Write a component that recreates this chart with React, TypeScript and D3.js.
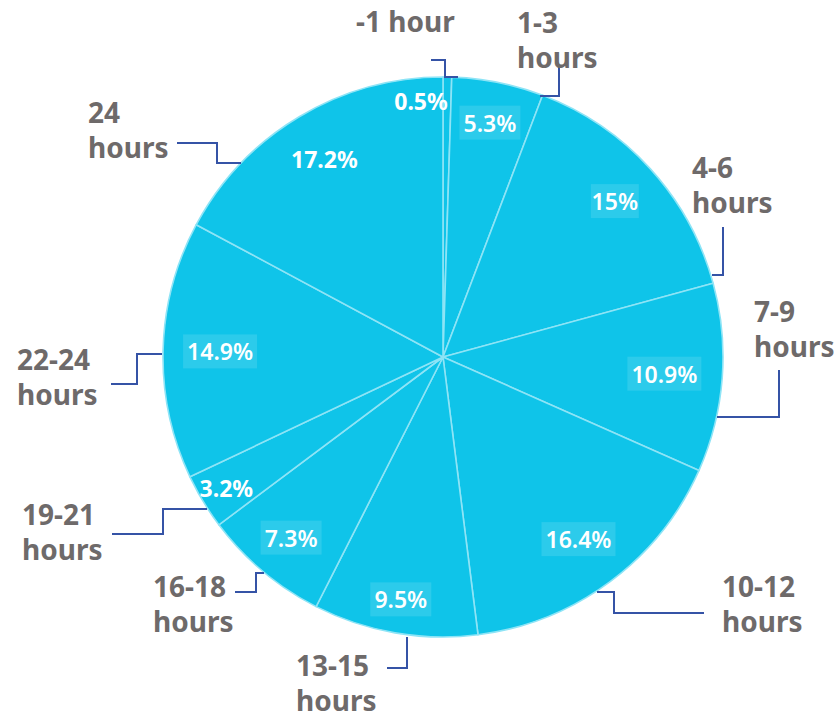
import React from "react";
import * as d3 from "d3";

const categories = ["-1 hour", "1-3 hours", "4-6 hours", "7-9 hours", "10-12 hours", "13-15 hours", "16-18 hours", "19-21 hours", "22-24 hours", "24 hours"];
const values = [0.5, 5.3, 15, 10.9, 16.4, 9.5, 7.3, 3.2, 14.9, 17.2];
const valueLabels = ["0.5%", "5.3%", "15%", "10.9%", "16.4%", "9.5%", "7.3%", "3.2%", "14.9%", "17.2%"];

// layout for the outside labels (text anchor position + leader path)
const labelLines = [
  ["-1 hour"],
  ["1-3", "hours"],
  ["4-6", "hours"],
  ["7-9", "hours"],
  ["10-12", "hours"],
  ["13-15", "hours"],
  ["16-18", "hours"],
  ["19-21", "hours"],
  ["22-24", "hours"],
  ["24", "hours"],
];
const labelPos: [number, number][] = [
  [356, 32], [517, 33], [692, 178], [754, 322], [722, 597],
  [296, 676], [153, 597], [22, 525], [17, 370], [88, 123],
];
const leaders: [number, number][][] = [
  [[458, 77], [445, 77], [445, 60], [431, 60]],
  [[540, 96], [559, 96], [559, 66]],
  [[712, 275], [723, 275], [723, 227]],
  [[717, 417], [779, 417], [779, 370]],
  [[597, 592], [614, 592], [614, 613], [704, 613]],
  [[407, 637], [407, 668], [387, 668]],
  [[264, 573], [256, 573], [256, 592], [235, 592]],
  [[207, 509], [163, 509], [163, 534], [112, 534]],
  [[162, 354], [137, 354], [137, 384], [111, 384]],
  [[241, 163], [217, 163], [217, 143], [177, 143]],
];
const valueLabelRadius = [256, 239, 232, 222, 227, 246, 236, 253, 223, 231];
const valueLabelShift = [-26, 0, 0, 0, 0, 0, 0, 0, 0, 0];
const valueLabelBox = [false, true, true, true, true, true, true, false, true, false];
const valueLabelBold = [true, false, false, false, false, false, false, true, false, true];

const CX = 443;
const CY = 357;
const R = 280;

export default function App() {
  const pie = d3.pie<number>().sort(null).value((d) => d).startAngle(0).endAngle(2 * Math.PI);
  const arcs = pie(values);
  const arc = d3.arc<d3.PieArcDatum<number>>().innerRadius(0).outerRadius(R);
  const line = d3.line();
  const fontFamily = "'Noto Sans', 'Open Sans', sans-serif";

  return (
    <svg width={836} height={717} style={{ position: "absolute", left: 0, top: 0 }}>
      <rect width={836} height={717} fill="#ffffff" />
      <g transform={`translate(${CX},${CY})`}>
        {arcs.map((a, i) => (
          <path key={i} d={arc(a) || ""} fill="#0fc4e9" stroke="#8ee4f6" strokeWidth={1.6} strokeLinejoin="round" />
        ))}
        {arcs.map((a, i) => {
          const mid = (a.startAngle + a.endAngle) / 2;
          const r = valueLabelRadius[i];
          const x = Math.sin(mid) * r + valueLabelShift[i];
          const y = -Math.cos(mid) * r;
          const txt = valueLabels[i];
          const w = txt.replace("%", "").length * 13 + 22;
          return (
            <g key={"v" + i}>
              {valueLabelBox[i] && (
                <rect x={x - w / 2} y={y - 17} width={w} height={34} fill="#ffffff" fillOpacity={0.12} />
              )}
              <text
                x={x}
                y={y}
                textAnchor="middle"
                dominantBaseline="central"
                fill="#ffffff"
                fontFamily={fontFamily}
                fontWeight={valueLabelBold[i] ? 700 : 600}
                fontSize={23}
              >
                {txt}
              </text>
            </g>
          );
        })}
      </g>
      {leaders.map((pts, i) => (
        <path key={"l" + i} d={line(pts) || ""} fill="none" stroke="#3553a6" strokeWidth={2} />
      ))}
      {labelLines.map((lines, i) => (
        <text
          key={"t" + i}
          x={labelPos[i][0]}
          y={labelPos[i][1]}
          fill="#6e6a6a"
          fontFamily={fontFamily}
          fontWeight={700}
          fontSize={28}
          aria-label={categories[i]}
        >
          {lines.map((l, j) => (
            <tspan key={j} x={labelPos[i][0]} dy={j === 0 ? 0 : 34.5}>
              {l}
            </tspan>
          ))}
        </text>
      ))}
    </svg>
  );
}
